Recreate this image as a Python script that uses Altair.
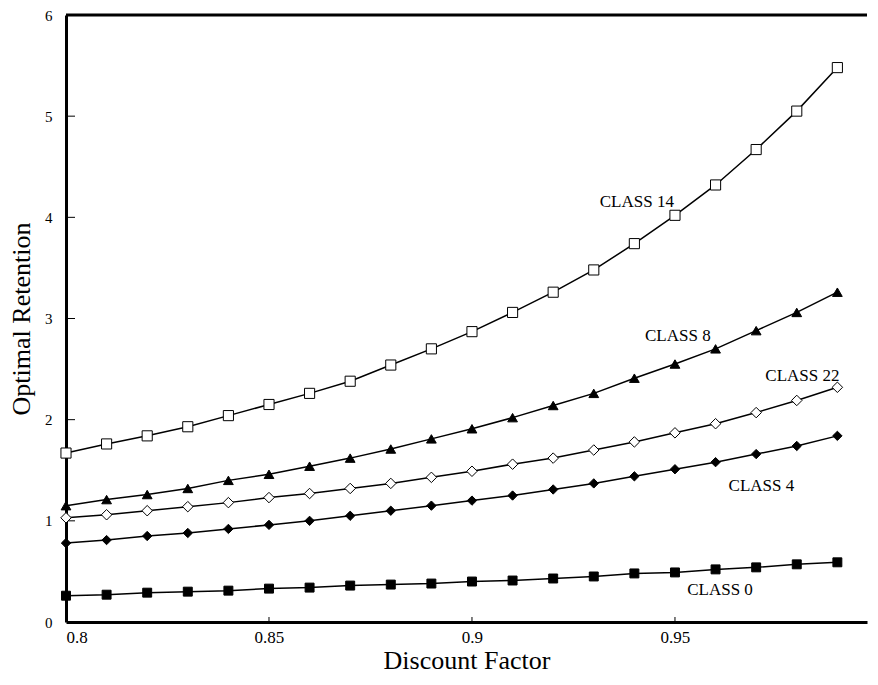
import altair as alt
import pandas as pd

xs = [0.80, 0.81, 0.82, 0.83, 0.84, 0.85, 0.86, 0.87, 0.88, 0.89,
      0.90, 0.91, 0.92, 0.93, 0.94, 0.95, 0.96, 0.97, 0.98, 0.99]
class0 = [0.26, 0.27, 0.29, 0.30, 0.31, 0.33, 0.34, 0.36, 0.37, 0.38,
          0.40, 0.41, 0.43, 0.45, 0.48, 0.49, 0.52, 0.54, 0.57, 0.59]
class4 = [0.78, 0.81, 0.85, 0.88, 0.92, 0.96, 1.00, 1.05, 1.10, 1.15,
          1.20, 1.25, 1.31, 1.37, 1.44, 1.51, 1.58, 1.66, 1.74, 1.84]
class8 = [1.15, 1.21, 1.26, 1.32, 1.40, 1.46, 1.54, 1.62, 1.71, 1.81,
          1.91, 2.02, 2.14, 2.26, 2.41, 2.55, 2.70, 2.88, 3.06, 3.26]
class14 = [1.67, 1.76, 1.84, 1.93, 2.04, 2.15, 2.26, 2.38, 2.54, 2.70,
           2.87, 3.06, 3.26, 3.48, 3.74, 4.02, 4.32, 4.67, 5.05, 5.48]
class22 = [1.03, 1.06, 1.10, 1.14, 1.18, 1.23, 1.27, 1.32, 1.37, 1.43,
           1.49, 1.56, 1.62, 1.70, 1.78, 1.87, 1.96, 2.07, 2.19, 2.32]

series_names = ["CLASS 0", "CLASS 4", "CLASS 8", "CLASS 14", "CLASS 22"]
series_shapes = ["square", "diamond", "triangle-up", "square", "diamond"]
series_fills = ["black", "black", "black", "white", "white"]
series_sizes = [80, 110, 100, 100, 110]

label_text = ["CLASS 14", "CLASS 8", "CLASS 22", "CLASS 4", "CLASS 0"]
label_x = [0.9406, 0.9507, 0.9814, 0.9713, 0.9611]
label_y = [4.15, 2.83, 2.43, 1.34, 0.32]

x_ticks = [0.8, 0.85, 0.9, 0.95]
y_ticks = [0, 1, 2, 3, 4, 5, 6]
inner_y_ticks = [1, 2, 3, 4, 5]
inner_x_ticks = [0.85, 0.9, 0.95]

W, H = 801, 607
FONT = "Liberation Serif"

rows = []
for name, vals in zip(series_names, [class0, class4, class8, class14, class22]):
    for xv, yv in zip(xs, vals):
        rows.append({"x": xv, "y": yv, "cls": name})
df = pd.DataFrame(rows)
labels = pd.DataFrame({"lx": label_x, "ly": label_y, "lab": label_text})

xscale = alt.Scale(domain=[0.8, 0.9973], nice=False, zero=False)
yscale = alt.Scale(domain=[0, 6], nice=False)

X = alt.X("x:Q", scale=xscale,
          axis=alt.Axis(values=x_ticks, format="~g", title="Discount Factor",
                        labelFontSize=17, labelPadding=7, titlePadding=2))
Y = alt.Y("y:Q", scale=yscale,
          axis=alt.Axis(values=y_ticks, format="d", title="Optimal Retention",
                        labelFontSize=15, labelPadding=14, titlePadding=10))

base = alt.Chart(df)
lines = base.mark_line(color="black", strokeWidth=1.5).encode(x=X, y=Y, detail="cls:N")
points = base.mark_point(filled=True, stroke="black", strokeWidth=1, opacity=1).encode(
    x=X, y=Y,
    shape=alt.Shape("cls:N", scale=alt.Scale(domain=series_names, range=series_shapes), legend=None),
    fill=alt.Fill("cls:N", scale=alt.Scale(domain=series_names, range=series_fills), legend=None),
    size=alt.Size("cls:N", scale=alt.Scale(domain=series_names, range=series_sizes), legend=None),
)
text = alt.Chart(labels).mark_text(font=FONT, fontSize=17, color="black").encode(
    x=alt.X("lx:Q", scale=xscale), y=alt.Y("ly:Q", scale=yscale), text="lab:N")

ytick_marks = alt.Chart(pd.DataFrame({"t": inner_y_ticks})).mark_rule(
    color="black", strokeWidth=1).encode(
    y=alt.Y("t:Q", scale=yscale), x=alt.value(0), x2=alt.value(9))
xtick_marks = alt.Chart(pd.DataFrame({"t": inner_x_ticks})).mark_rule(
    color="black", strokeWidth=1).encode(
    x=alt.X("t:Q", scale=xscale), y=alt.value(H - 5), y2=alt.value(H))
top_border = alt.Chart(pd.DataFrame({"t": [6]})).mark_rule(
    color="black", strokeWidth=3).encode(y=alt.Y("t:Q", scale=yscale))

chart = alt.layer(top_border, ytick_marks, xtick_marks, lines, points, text).properties(
    width=W, height=H, padding={"left": 0, "right": 0, "top": 0, "bottom": 0}
).configure_view(stroke=None).configure_axis(
    labelFont=FONT, titleFont=FONT, titleFontSize=26,
    titleFontWeight="normal", labelColor="black", titleColor="black",
    domainColor="black", domainWidth=3, ticks=False, tickSize=0, grid=False,
)

chart.save("out.html", embed_options={"renderer": "svg", "actions": False})
